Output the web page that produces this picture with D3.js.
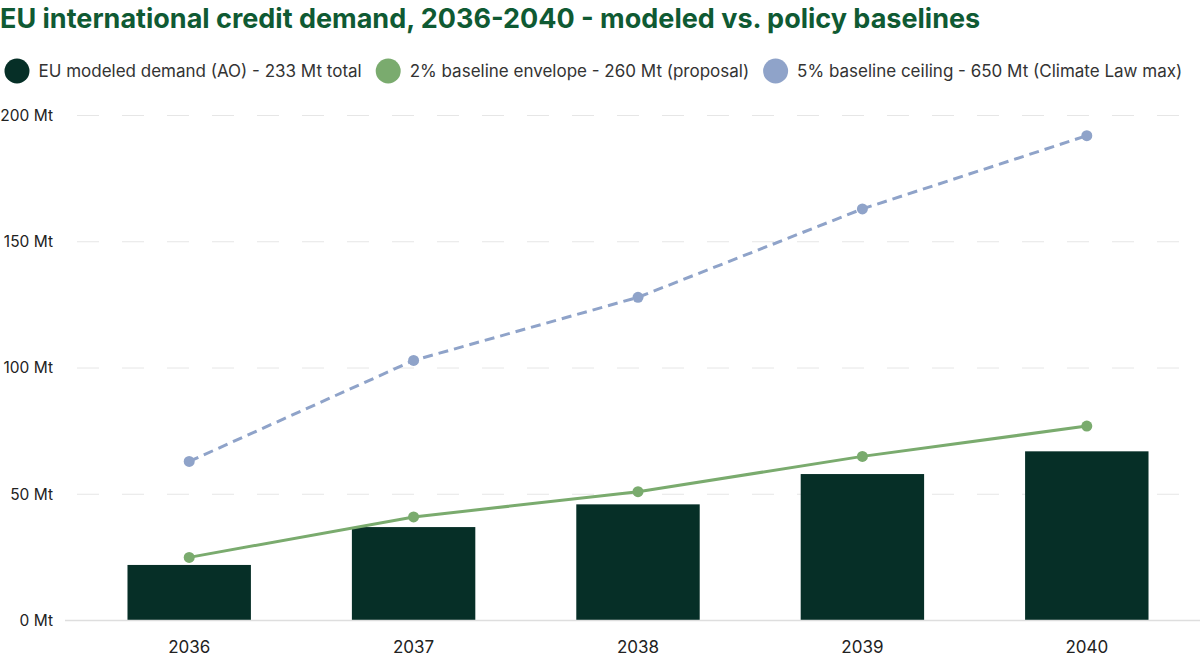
<!DOCTYPE html>
<html>
<head>
<meta charset="utf-8">
<script src="https://cdn.jsdelivr.net/npm/d3@7"></script>
<style>
  html, body { margin: 0; padding: 0; background: #fff; }
  svg { display: block; font-family: Inter, "Noto Sans", sans-serif; }
</style>
</head>
<body>
<div id="chart"></div>
<script>
// Data (Mt)
const years = ["2036", "2037", "2038", "2039", "2040"];
const modeledDemand = [22, 37, 46, 58, 67];
const baseline2pct = [25, 41, 51, 65, 77];
const baseline5pct = [63, 103, 128, 163, 192];
const yTicks = [0, 50, 100, 150, 200];

const legendItems = [
  { label: "EU modeled demand (AO) - 233 Mt total", color: "#062f27" },
  { label: "2% baseline envelope - 260 Mt (proposal)", color: "#7aab6e" },
  { label: "5% baseline ceiling - 650 Mt (Climate Law max)", color: "#8fa3c9" },
];

const width = 1200;
const height = 660;
const margin = { top: 115.5, right: 1, bottom: 39.5, left: 77 };

const svg = d3
  .select("#chart")
  .append("svg")
  .attr("width", width)
  .attr("height", height)
  .attr("viewBox", [0, 0, width, height]);

// Title
svg
  .append("text")
  .attr("x", 0)
  .attr("y", 28)
  .attr("fill", "#0f5a33")
  .attr("font-size", 27)
  .attr("font-weight", 700)
  .text("EU international credit demand, 2036-2040 - modeled vs. policy baselines");

// Legend
const legend = svg.append("g").attr("transform", "translate(0,71)");
let lx = 4.5;
legendItems.forEach((item) => {
  const g = legend.append("g");
  g.append("circle")
    .attr("cx", lx + 12.5)
    .attr("cy", 0)
    .attr("r", 12.5)
    .attr("fill", item.color);
  const t = g
    .append("text")
    .attr("x", lx + 34)
    .attr("y", 0)
    .attr("dy", "0.35em")
    .attr("font-size", 17)
    .attr("fill", "#333")
    .text(item.label);
  lx += 34 + t.node().getComputedTextLength() + 14;
});

// Scales
const x = d3
  .scaleBand()
  .domain(years)
  .range([margin.left, width - margin.right])
  .paddingInner(0.45)
  .paddingOuter(0.225);

const y = d3
  .scaleLinear()
  .domain([0, 200])
  .range([height - margin.bottom, margin.top]);

const gridLeft = 65;

// Gridlines
svg
  .append("g")
  .selectAll("line")
  .data(yTicks.filter((d) => d > 0))
  .join("line")
  .attr("x1", gridLeft)
  .attr("x2", width)
  .attr("y1", (d) => y(d))
  .attr("y2", (d) => y(d))
  .attr("stroke", "#e6e6e6")
  .attr("stroke-width", 1)
  .attr("stroke-dasharray", "22,23")
  .attr("stroke-dashoffset", -12);

// Y axis labels
const yAxis = svg
  .append("g")
  .attr("transform", `translate(${gridLeft},0)`)
  .call(
    d3.axisLeft(y)
      .tickValues(yTicks)
      .tickSize(0)
      .tickPadding(12)
      .tickFormat((d) => `${d} Mt`)
  );
yAxis.select(".domain").remove();
yAxis
  .selectAll("text")
  .attr("font-family", "Inter, sans-serif")
  .attr("font-size", 15.5)
  .attr("fill", "#222");

// Bars
svg
  .append("g")
  .selectAll("rect")
  .data(modeledDemand)
  .join("rect")
  .attr("x", (d, i) => x(years[i]))
  .attr("y", (d) => y(d))
  .attr("width", x.bandwidth())
  .attr("height", (d) => y(0) - y(d))
  .attr("fill", "#062f27");

// Baseline axis line
svg
  .append("line")
  .attr("x1", gridLeft)
  .attr("x2", width)
  .attr("y1", y(0))
  .attr("y2", y(0))
  .attr("stroke", "#dedede")
  .attr("stroke-width", 1.5);

// X axis labels
const xAxis = svg
  .append("g")
  .attr("transform", `translate(0,${y(0)})`)
  .call(d3.axisBottom(x).tickSize(0).tickPadding(20));
xAxis.select(".domain").remove();
xAxis
  .selectAll("text")
  .attr("font-family", "Inter, sans-serif")
  .attr("font-size", 17)
  .attr("fill", "#222");

const cx = (i) => x(years[i]) + x.bandwidth() / 2;

function drawSeries(values, color, dash) {
  const line = d3
    .line()
    .x((d, i) => cx(i))
    .y((d) => y(d));
  svg
    .append("path")
    .datum(values)
    .attr("fill", "none")
    .attr("stroke", color)
    .attr("stroke-width", 3)
    .attr("stroke-dasharray", dash)
    .attr("d", line);
  svg
    .append("g")
    .selectAll("circle")
    .data(values)
    .join("circle")
    .attr("cx", (d, i) => cx(i))
    .attr("cy", (d) => y(d))
    .attr("r", 5.5)
    .attr("fill", color);
}

drawSeries(baseline2pct, "#7aab6e", null);
drawSeries(baseline5pct, "#8fa3c9", "10,6");
</script>
</body>
</html>
